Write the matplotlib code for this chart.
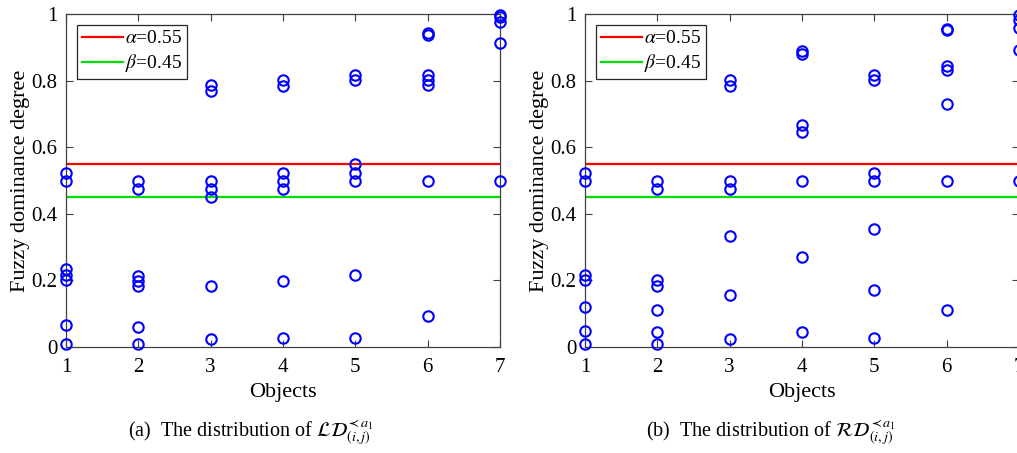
import matplotlib
matplotlib.use("Agg")
import matplotlib.pyplot as plt
import numpy as np

plt.rcParams['font.family'] = ['Liberation Serif', 'DejaVu Serif']
plt.rcParams['mathtext.fontset'] = 'stix'

objects = [1, 2, 3, 4, 5, 6, 7]
alpha_val = 0.55
beta_val = 0.45

# Left panel: LD values per object
ld_values = [
    [0.524, 0.500, 0.233, 0.215, 0.200, 0.065, 0.008],
    [0.500, 0.475, 0.213, 0.197, 0.183, 0.059, 0.008],
    [0.786, 0.768, 0.500, 0.475, 0.450, 0.183, 0.024],
    [0.801, 0.784, 0.524, 0.500, 0.475, 0.199, 0.026],
    [0.817, 0.801, 0.550, 0.524, 0.500, 0.215, 0.028],
    [0.943, 0.937, 0.816, 0.801, 0.786, 0.500, 0.093],
    [0.997, 0.990, 0.977, 0.912, 0.500],
]
# Right panel: RD values per object
rd_values = [
    [0.524, 0.500, 0.215, 0.200, 0.121, 0.048, 0.008],
    [0.500, 0.475, 0.200, 0.183, 0.110, 0.045, 0.008],
    [0.801, 0.784, 0.500, 0.475, 0.332, 0.156, 0.024],
    [0.889, 0.880, 0.667, 0.646, 0.500, 0.270, 0.045],
    [0.817, 0.801, 0.524, 0.500, 0.355, 0.170, 0.026],
    [0.955, 0.951, 0.845, 0.831, 0.731, 0.500, 0.110],
    [0.997, 0.982, 0.958, 0.892, 0.500],
]

yticks = [0, 0.2, 0.4, 0.6, 0.8, 1]
ytick_labels = ['0', '0.2', '0.4', '0.6', '0.8', '1']
captions = [r'(a)  The distribution of $\mathcal{LD}^{\prec a_1}_{(i,j)}$',
            r'(b)  The distribution of $\mathcal{RD}^{\prec a_1}_{(i,j)}$']
caption_x_px = [251, 771]

W, H = 1017, 453
fig = plt.figure(figsize=(W / 100, H / 100), dpi=100)

axes_left_px = [66, 585]
ax_w_px = 434
ax_top_px, ax_bot_px = 14, 347
spine_col = '#404040'

for k, (data, left_px) in enumerate(zip([ld_values, rd_values], axes_left_px)):
    ax = fig.add_axes([left_px / W, 1 - ax_bot_px / H, ax_w_px / W, (ax_bot_px - ax_top_px) / H])
    for obj, vals in zip(objects, data):
        ax.plot([obj] * len(vals), vals, 'o', mfc='none', mec='#0000ff', ms=7.5, mew=1.5,
                clip_on=False, zorder=3)
    ax.plot([objects[0], objects[-1]], [alpha_val, alpha_val], color='#ff0000', lw=1.6,
            label=r'$\alpha$=0.55')
    ax.plot([objects[0], objects[-1]], [beta_val, beta_val], color='#00e000', lw=1.6,
            label=r'$\beta$=0.45')
    ax.set_xlim(1, 7)
    ax.set_ylim(0, 1)
    ax.set_xticks(objects)
    ax.set_xticklabels([str(o) for o in objects])
    ax.set_yticks(yticks)
    ax.set_yticklabels(ytick_labels)
    ax.tick_params(direction='in', top=True, right=True, length=5, width=0.8,
                   labelsize=15, colors=spine_col, labelcolor='black')
    ax.tick_params(axis='x', pad=8)
    ax.tick_params(axis='y', pad=6)
    for s in ax.spines.values():
        s.set_color(spine_col)
        s.set_linewidth(0.9)
    ax.set_xlabel('Objects', fontsize=16, labelpad=4)
    ax.set_ylabel('Fuzzy dominance degree', fontsize=16, labelpad=1)
    leg = ax.legend(loc='upper left', bbox_to_anchor=(0.025, 0.967), fontsize=14,
                    frameon=True, fancybox=False, edgecolor='#262626', framealpha=1,
                    handlelength=2.1, handletextpad=0.15, borderpad=0.25, labelspacing=0.25,
                    borderaxespad=0)
    leg.get_frame().set_linewidth(0.9)
    fig.text(caption_x_px[k] / W, 1 - 433 / H, captions[k], ha='center',
             va='center', fontsize=14.5)

fig.savefig('out.png', dpi=100)
